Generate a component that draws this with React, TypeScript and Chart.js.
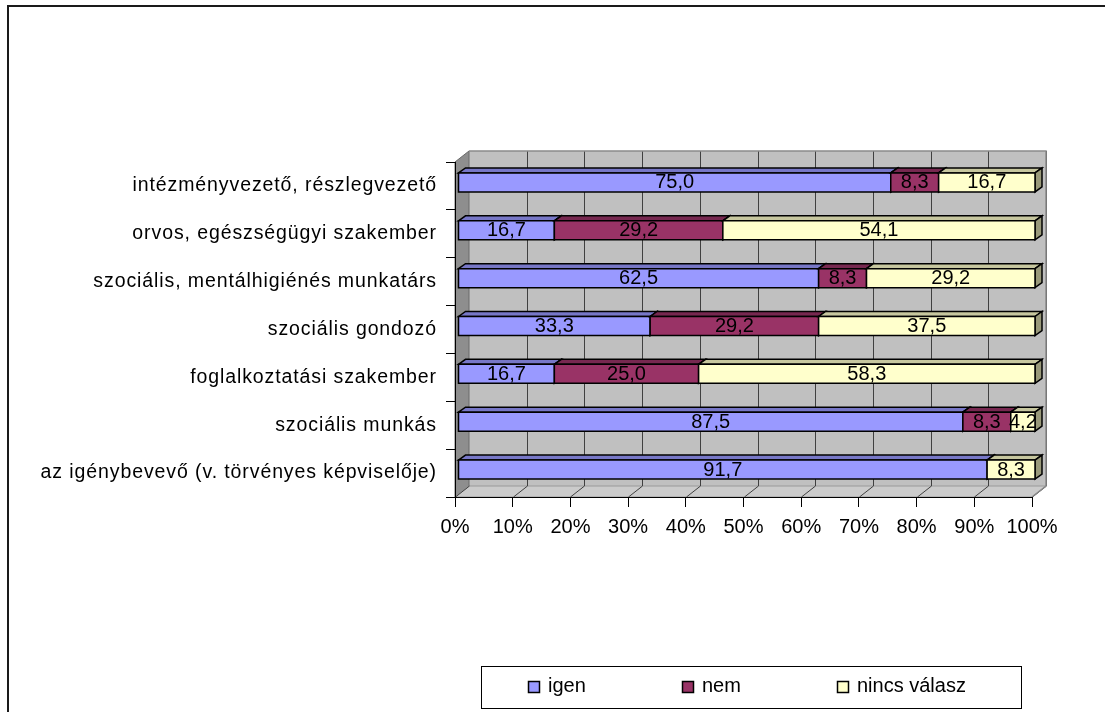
import React, { useEffect, useRef } from 'react';
import { Chart, registerables } from 'chart.js';

Chart.register(...registerables);

const categories = [
  'intézményvezető, részlegvezető',
  'orvos, egészségügyi szakember',
  'szociális, mentálhigiénés munkatárs',
  'szociális gondozó',
  'foglalkoztatási szakember',
  'szociális munkás',
  'az igénybevevő (v. törvényes képviselője)',
];
const seriesNames = ['igen', 'nem', 'nincs válasz'];
const igenValues = [75.0, 16.7, 62.5, 33.3, 16.7, 87.5, 91.7];
const nemValues = [8.3, 29.2, 8.3, 29.2, 25.0, 8.3, 0];
const nincsValues = [16.7, 54.1, 29.2, 37.5, 58.3, 4.2, 8.3];
const seriesColors = ['#9999FF', '#993366', '#FFFFCC'];
const xMin = 0;
const xMax = 100;
const xStep = 10;

const FONT = '"Liberation Sans", Arial, sans-serif';
const FONT_SIZE = 20;
const CAT_FONT_SIZE = 19.5;
const CAT_SPACING = '0.9px';
const WALL = { x: 14, y: -11 };
const BAR_SHIFT = { x: 3, y: -3.5 };
const BAR_DEPTH = { x: 7, y: -5 };

function shade(hex: string, f: number) {
  const n = parseInt(hex.slice(1), 16);
  const r = Math.round(((n >> 16) & 255) * f);
  const g = Math.round(((n >> 8) & 255) * f);
  const b = Math.round((n & 255) * f);
  return `rgb(${r},${g},${b})`;
}

function poly(ctx: CanvasRenderingContext2D, pts: number[][], fill: string | null, stroke: string | null, lw = 1) {
  ctx.beginPath();
  ctx.moveTo(pts[0][0], pts[0][1]);
  for (let i = 1; i < pts.length; i++) ctx.lineTo(pts[i][0], pts[i][1]);
  ctx.closePath();
  if (fill) {
    ctx.fillStyle = fill;
    ctx.fill();
  }
  if (stroke) {
    ctx.strokeStyle = stroke;
    ctx.lineWidth = lw;
    ctx.stroke();
  }
}

const fmt = (v: number) => v.toFixed(1).replace('.', ',');

const threeDPlugin = {
  id: 'threeD',
  beforeDraw(chart: any) {
    const ctx: CanvasRenderingContext2D = chart.ctx;
    ctx.letterSpacing = '0px';
    const a = chart.chartArea;
    const xs = chart.scales.x;
    const dx = WALL.x;
    const dy = WALL.y;
    ctx.save();
    ctx.fillStyle = '#FFFFFF';
    ctx.fillRect(0, 0, chart.width, chart.height);
    // back wall
    poly(ctx, [[a.left + dx, a.top + dy], [a.right + dx, a.top + dy], [a.right + dx, a.bottom + dy], [a.left + dx, a.bottom + dy]], '#C0C0C0', null);
    // left wall
    poly(ctx, [[a.left, a.top], [a.left + dx, a.top + dy], [a.left + dx, a.bottom + dy], [a.left, a.bottom]], '#8E8E8E', '#6A6A6A');
    // floor
    poly(ctx, [[a.left, a.bottom], [a.left + dx, a.bottom + dy], [a.right + dx, a.bottom + dy], [a.right, a.bottom]], '#CBCBCB', '#9A9A9A');
    // grid lines
    ctx.strokeStyle = '#404040';
    ctx.lineWidth = 1;
    for (let v = xMin; v <= xMax; v += xStep) {
      const px = Math.round(xs.getPixelForValue(v)) + 0.5;
      ctx.beginPath();
      if (v > xMin) {
        ctx.moveTo(px + dx, a.top + dy);
        ctx.lineTo(px + dx, a.bottom + dy);
      }
      ctx.moveTo(px, a.bottom);
      ctx.lineTo(px + dx, a.bottom + dy);
      ctx.stroke();
    }
    // back wall outline
    ctx.strokeStyle = '#8A8A8A';
    ctx.lineWidth = 1.5;
    ctx.beginPath();
    ctx.moveTo(a.left + dx, a.top + dy);
    ctx.lineTo(a.right + dx, a.top + dy);
    ctx.lineTo(a.right + dx, a.bottom + dy);
    ctx.lineTo(a.right, a.bottom);
    ctx.stroke();
    ctx.restore();
  },
  beforeDatasetsDraw(chart: any) {
    const ctx: CanvasRenderingContext2D = chart.ctx;
    const values = [igenValues, nemValues, nincsValues];
    const sx = BAR_SHIFT.x;
    const sy = BAR_SHIFT.y;
    const bx = BAR_DEPTH.x;
    const by = BAR_DEPTH.y;
    ctx.save();
    const labels: { text: string; x: number; y: number }[] = [];
    for (let j = 0; j < categories.length; j++) {
      for (let i = 0; i < values.length; i++) {
        const meta = chart.getDatasetMeta(i);
        const el = meta.data[j];
        if (!el || !(values[i][j] > 0)) continue;
        const p = el.getProps(['x', 'base', 'y', 'height'], true);
        const l = Math.min(p.base, p.x) + sx;
        const r = Math.max(p.base, p.x) + sx;
        const t = p.y - p.height / 2 + sy;
        const b = p.y + p.height / 2 + sy;
        const c = seriesColors[i];
        poly(ctx, [[l, t], [l + bx, t + by], [r + bx, t + by], [r, t]], shade(c, 0.78), '#000', 1.5);
        poly(ctx, [[r, t], [r + bx, t + by], [r + bx, b + by], [r, b]], shade(c, 0.6), '#000', 1.5);
        poly(ctx, [[l, t], [r, t], [r, b], [l, b]], c, '#000', 1.5);
        labels.push({ text: fmt(values[i][j]), x: (l + r) / 2, y: (t + b) / 2 + 0.5 });
      }
    }
    ctx.fillStyle = '#000';
    ctx.font = `${FONT_SIZE}px ${FONT}`;
    ctx.textAlign = 'center';
    ctx.textBaseline = 'middle';
    ctx.letterSpacing = '0px';
    labels.forEach((lb) => ctx.fillText(lb.text, lb.x, lb.y));
    ctx.restore();
    // category labels are drawn in a later layer (ticks z: 1) with wider letter spacing
    ctx.letterSpacing = CAT_SPACING;
    return false;
  },
  afterDraw(chart: any) {
    const ctx: CanvasRenderingContext2D = chart.ctx;
    ctx.letterSpacing = '0px';
    ctx.save();
    // outer chart border (only left and top visible)
    ctx.fillStyle = '#1A1A1A';
    ctx.fillRect(0, 0, chart.width, 2);
    ctx.fillRect(0, 0, 2, chart.height);
    // legend
    ctx.strokeStyle = '#000';
    ctx.lineWidth = 1;
    ctx.strokeRect(474.5, 661.5, 540, 42);
    const itemX = [521, 675, 830];
    ctx.font = `${FONT_SIZE}px ${FONT}`;
    ctx.textAlign = 'left';
    ctx.textBaseline = 'middle';
    seriesNames.forEach((name, i) => {
      const x0 = itemX[i];
      ctx.fillStyle = seriesColors[i];
      ctx.fillRect(x0 + 0.5, 676.5, 11, 11);
      ctx.strokeStyle = '#000';
      ctx.lineWidth = 1.5;
      ctx.strokeRect(x0 + 0.5, 676.5, 11, 11);
      ctx.fillStyle = '#000';
      ctx.fillText(name, x0 + 20, 681.5);
    });
    ctx.restore();
  },
};

export default function App() {
  const ref = useRef<HTMLCanvasElement | null>(null);
  useEffect(() => {
    document.body.style.overflow = 'hidden';
    const canvas = ref.current!;
    const chart = new Chart(canvas, {
      type: 'bar',
      data: {
        labels: categories,
        datasets: [
          { label: seriesNames[0], data: igenValues, backgroundColor: seriesColors[0] },
          { label: seriesNames[1], data: nemValues, backgroundColor: seriesColors[1] },
          { label: seriesNames[2], data: nincsValues, backgroundColor: seriesColors[2] },
        ],
      },
      options: {
        indexAxis: 'y',
        responsive: false,
        animation: false,
        devicePixelRatio: 1,
        layout: { padding: { top: 157, right: 73, bottom: 175, left: 0 } },
        datasets: { bar: { barPercentage: 0.397, categoryPercentage: 1 } },
        plugins: { legend: { display: false }, tooltip: { enabled: false }, title: { display: false } },
        scales: {
          x: {
            stacked: true,
            min: xMin,
            max: xMax,
            afterFit: (s: any) => { s.height = 40; },
            grid: { display: true, drawOnChartArea: false, drawTicks: true, tickLength: 10, color: '#000', lineWidth: 1 },
            border: { display: true, color: '#000', width: 1 },
            ticks: {
              stepSize: xStep,
              autoSkip: false,
              padding: 8,
              color: '#000',
              font: { family: FONT, size: FONT_SIZE },
              callback: (v: any) => `${v}%`,
              maxRotation: 0,
            },
          },
          y: {
            stacked: true,
            afterFit: (s: any) => { s.width = 448; },
            grid: { display: true, drawOnChartArea: false, drawTicks: true, tickLength: 9, color: '#000', lineWidth: 1, offset: true },
            border: { display: true, color: '#000', width: 1 },
            ticks: {
              z: 1,
              padding: 9,
              labelOffset: 0,
              color: '#000',
              font: { family: FONT, size: CAT_FONT_SIZE },
              autoSkip: false,
            },
          },
        },
      },
      plugins: [threeDPlugin],
    } as any);
    return () => chart.destroy();
  }, []);
  return (
    <div style={{ position: 'absolute', left: 7, top: 5, width: 1098, height: 707 }}>
      <canvas ref={ref} width={1098} height={707} style={{ display: 'block', width: 1098, height: 707 }} />
    </div>
  );
}
